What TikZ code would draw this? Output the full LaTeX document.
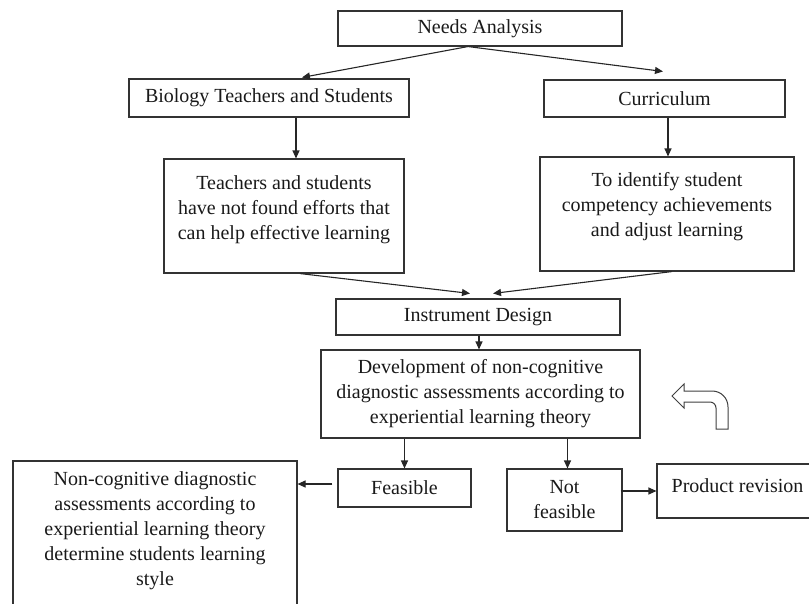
\documentclass[tikz,border=0pt]{standalone}
\usepackage{fontspec}
\setmainfont{Liberation Serif}
\usetikzlibrary{arrows.meta}
\begin{document}
\begin{tikzpicture}[x=1pt,y=-1pt,
  box/.style={draw=black!80, line width=1.1pt, inner sep=0pt, rectangle},
  txt/.style={font=\fontsize{20}{25}\selectfont, align=center, inner sep=0pt, text=black!90},
  arr/.style={draw=black!85, line width=1.1pt, -{Triangle[length=8pt,width=7pt]}}]
\useasboundingbox (0,0) rectangle (809,603);

\node[box,txt,minimum width=284pt,minimum height=35pt] (needs) at (480,28.5) {Needs Analysis};
\node[box,txt,minimum width=280pt,minimum height=38pt] (bio) at (269,98) {Biology Teachers and Students};
\node[box,txt,minimum width=241pt,minimum height=37pt] (curr) at (664.5,98.5) {Curriculum};

\node[box,minimum width=240pt,minimum height=114pt] (teach) at (284,216) {};
\node[txt] (teachT) at (284,210) {Teachers and students\\have not found efforts that\\can help effective learning};

\node[box,minimum width=254pt,minimum height=114pt] (toid) at (667,214) {};
\node[txt] (toidT) at (667,207) {To identify student\\competency achievements\\and adjust learning};

\node[box,txt,minimum width=284pt,minimum height=36pt] (instr) at (478,317) {Instrument Design};
\node[box,txt,minimum width=319pt,minimum height=88pt] (dev) at (480.5,394) {Development of non-cognitive\\diagnostic assessments according to\\experiential learning theory};

\node[box,txt,minimum width=133pt,minimum height=38pt] (feas) at (404.5,488) {Feasible};
\node[box,txt,minimum width=115pt,minimum height=62pt] (notf) at (564.5,500) {Not\\feasible};

\node[box,minimum width=161pt,minimum height=54pt] (prod) at (737.5,491) {};
\node[txt] (prodT) at (737.5,486) {Product revision};

\node[box,minimum width=284pt,minimum height=145pt] (noncog) at (155,533.5) {};
\node[txt] (noncogT) at (155,531) {Non-cognitive diagnostic\\assessments according to\\experiential learning theory\\determine students learning\\style};

% connectors
\coordinate (nsrc) at ([xshift=-12pt]needs.south);
\draw[arr] (nsrc) -- ([xshift=33pt,yshift=1pt]bio.north);
\draw[arr] (nsrc) -- ([xshift=-1.5pt,yshift=8pt]curr.north);
\draw[arr] ([xshift=27pt]bio.south) -- ([xshift=12pt]teach.north);
\draw[arr] ([xshift=3.5pt]curr.south) -- ([xshift=1pt]toid.north);
\draw[arr] ([xshift=16pt]teach.south) -- ([xshift=-8pt,yshift=5pt]instr.north);
\draw[arr] ([xshift=5pt]toid.south) -- ([xshift=15pt,yshift=5pt]instr.north);
\draw[arr] ([xshift=1pt]instr.south) -- ([xshift=-1.5pt]dev.north);
\draw[arr] (feas.north |- dev.south) -- (feas.north);
\coordinate (nfTop) at ([xshift=3pt]notf.north);
\draw[arr] (nfTop |- dev.south) -- (nfTop);
\coordinate (fa) at ([xshift=-5pt,yshift=4pt]feas.west);
\draw[arr] (fa) -- (fa -| noncog.east);
\draw[arr] ([xshift=-2pt,yshift=9pt]notf.east) -- (prod.west);

% U-turn block arrow
\draw[draw=black!75, line width=1pt, fill=white, line join=miter]
  (672,396) -- (684,384) -- (684,391) -- (712,391)
  .. controls (721,391) and (728,398) .. (728,407)
  -- (728,429) -- (716,429) -- (716,408)
  .. controls (716,404.7) and (713.3,402) .. (710,402)
  -- (684,402) -- (684,408) -- cycle;
\end{tikzpicture}
\end{document}
